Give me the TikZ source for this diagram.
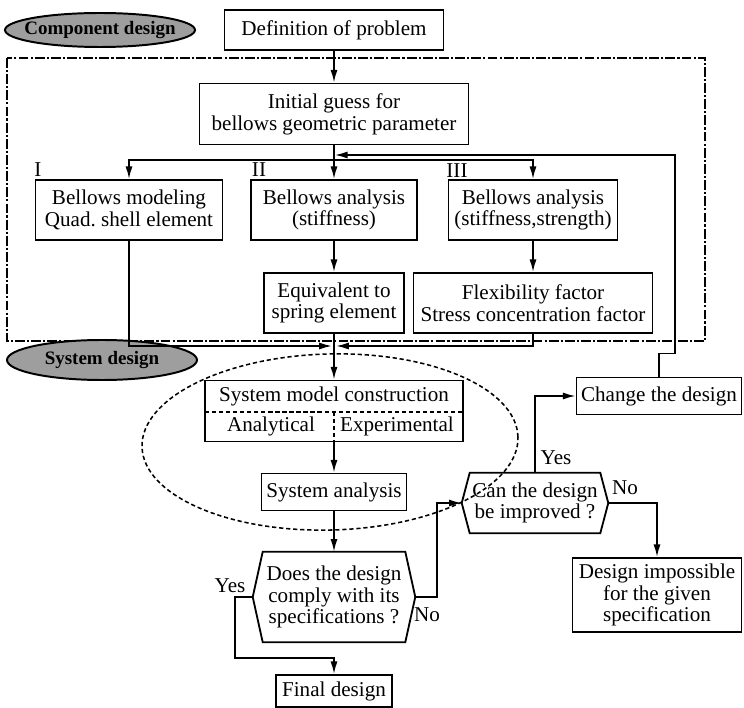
\documentclass[tikz,border=0pt]{standalone}
\usepackage{fontspec}
\setmainfont{Liberation Serif}
\usetikzlibrary{arrows.meta,shapes.geometric}
\tikzset{
  px/.style 2 args={minimum width=#1*0.025cm, minimum height=#2*0.025cm},
  block/.style={draw=black, line width=1.3pt, align=center, inner sep=0pt},
  decision/.style={align=center, inner sep=0pt},
  hexline/.style={draw=black, line width=1.3pt, line join=miter},
  tag/.style={ellipse, draw=black, line width=1.4pt, fill=black!38, inner xsep=-0.7cm, inner ysep=0pt, font=\bfseries\fontsize{13.5}{14}\selectfont},
  link/.style={line width=1.2pt, -{Latex[length=9pt,width=5pt]}},
  plain/.style={line width=1.2pt},
  frame/.style={line width=1.4pt, dash pattern=on 7pt off 1.5pt on 1.5pt off 1.5pt},
  halo/.style={line width=1.1pt, densely dashed},
  divider/.style={line width=0.8pt, densely dashed},
  remark/.style={inner sep=0pt},
}

\begin{document}
\begin{tikzpicture}[x=0.025cm, y=-0.025cm, font=\fontsize{15}{15.5}\selectfont]
\useasboundingbox (0,0) rectangle (744,708);
\draw[frame] (7,58) rectangle (705,341);
\draw[halo, rotate around={1.5:(330,442)}] (330,442) ellipse [x radius=4.7cm, y radius=2.2cm];

\node[tag, px={190}{34}] (comp) at (100,30) {Component design};
\node[block, px={219}{40}] (defn) at (334,30) {Definition of problem};
\node[block, px={269}{61}] (guess) at (334,114) {Initial guess for\\bellows geometric parameter};
\node[block, px={187}{60}] (model) at (129,210) {Bellows modeling\\Quad.\ shell element};
\node[block, px={166}{60}] (stiff) at (334,210) {Bellows analysis\\(stiffness)};
\node[block, px={169}{60}] (strength) at (533,210) {Bellows analysis\\(stiffness,strength)};
\node[block, px={140}{60}] (equiv) at (334,303) {Equivalent to\\spring element};
\node[block, px={239}{60}] (flex) at (533,303) {Flexibility factor\\Stress concentration factor};
\node[remark] (one) at (38,170) {I};
\node[remark] (two) at (259,170) {II};
\node[remark] (three) at (457,171) {III};

\node[tag, px={190}{40}] (sysd) at (102,360) {System design};
\node[block, px={258}{61}] (smc) at (334,411) {};
\node (smctext) at (334,396) {System model construction};
\node (analyt) at (271,426) {Analytical};
\node (exper) at (397,426) {Experimental};
\draw[divider] (205,412) -- (463,412);
\draw[divider] (334,412) -- (334,441);
\node[block, px={145}{37}] (sana) at (334,492) {System analysis};
\node[decision, px={162}{90}] (comply) at (334,597) {Does the design\\comply with its\\specifications ?};
\draw[hexline] (comply.west) -- ([xshift=0.25cm]comply.north west) -- ([xshift=-0.25cm]comply.north east) -- (comply.east) -- ([xshift=-0.25cm]comply.south east) -- ([xshift=0.25cm]comply.south west) -- cycle;
\node[block, px={116}{32}] (final) at (334,691) {Final design};
\node[decision, px={146}{60}] (improve) at (535,503) {Can the design\\be improved ?};
\draw[hexline] (improve.west) -- ([xshift=0.2cm]improve.north west) -- ([xshift=-0.2cm]improve.north east) -- (improve.east) -- ([xshift=-0.2cm]improve.south east) -- ([xshift=0.2cm]improve.south west) -- cycle;
\node[block, px={165}{37}] (change) at (659,396) {Change the design};
\node[block, px={169}{74}] (impossible) at (657,595) {Design impossible\\for the given\\specification};

\node[remark] (yes1) at (230,586) {Yes};
\node[remark] (no1) at (427,615) {No};
\node[remark] (yes2) at (556,458) {Yes};
\node[remark] (no2) at (625,488) {No};

\coordinate (split) at (334,160);
\coordinate (join) at (334,346);
\coordinate (back) at (334,155);

\draw[link] (defn) -- (guess);
\draw[plain] (guess.south) -- (split);
\draw[link] (split) -| (model.north);
\draw[link] (split) -- (stiff.north);
\draw[link] (split) -| (strength.north);
\draw[link] (stiff) -- (equiv);
\draw[link] (strength) -- (flex);
\draw[link, shorten >=1.5pt] (model.south) |- (join);
\draw[link, shorten >=1.5pt] (flex.south) |- (join);
\draw[link] (equiv) -- (smc);
\draw[link] (smc) -- (sana);
\draw[link] (sana) -- (comply);
\draw[link] (comply.west) -- ++(-18,0) -- ++(0,61) -| (final.north);
\draw[link] (comply.east) -- ++(22,0) |- (improve.west);
\draw[link] (improve.north) |- (change.west);
\draw[link] (improve.east) -| (impossible.north);
\draw[link, shorten >=0.6pt] (change.north) -- ++(0,-23) -- ++(16,0) |- (back);
\end{tikzpicture}
\end{document}
